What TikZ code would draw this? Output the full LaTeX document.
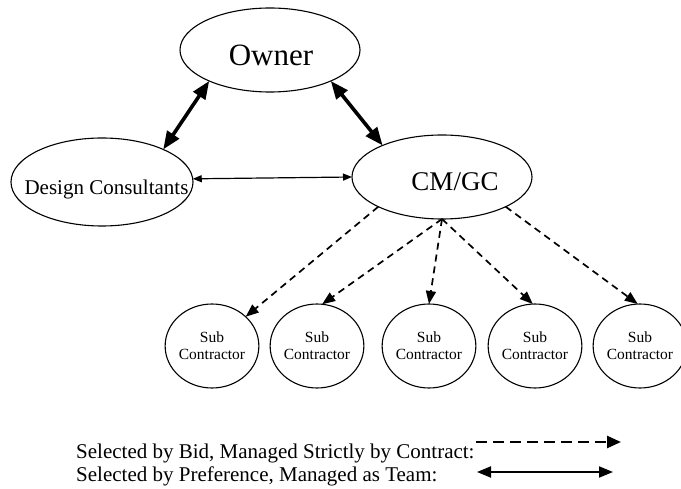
\documentclass[tikz,border=0pt]{standalone}
\usepackage{fontspec}
\setmainfont{Liberation Serif}
\usetikzlibrary{shapes.geometric,arrows.meta}
\begin{document}
\begin{tikzpicture}[x=1pt,y=-1pt,
  ell/.style={ellipse,draw,line width=1.1pt,inner sep=0pt,outer sep=0pt},
  subc/.style={ell,minimum width=92pt,minimum height=84pt,align=center,
    font=\fontsize{15.5}{17}\selectfont},
  thickdbl/.style={{Triangle[length=18pt,width=14pt]}-{Triangle[length=18pt,width=14pt]},line width=3.6pt},
  thindbl/.style={{Triangle[length=9pt,width=7pt]}-{Triangle[length=9pt,width=7pt]},line width=1.2pt},
  dasharr/.style={-{Triangle[length=13pt,width=10pt]},line width=1.7pt,dash pattern=on 7pt off 5pt},
  legtext/.style={anchor=base west,inner sep=0pt,font=\fontsize{21}{23}\selectfont},
]
\useasboundingbox (0,0) rectangle (681,489);
\fill[white] (0,0) rectangle (681,489);

\node[ell,minimum width=180pt,minimum height=84pt,font=\fontsize{31}{33}\selectfont,text height=32pt,text depth=0pt] (owner) at (270,50) {\makebox[0pt]{\hspace*{2pt}Owner}};
\node[ell,minimum width=182pt,minimum height=88pt,font=\fontsize{21}{23}\selectfont,text height=26pt,text depth=0pt] (design) at (102,182) {\makebox[0pt]{\hspace*{9pt}Design Consultants}};
\node[ell,minimum width=180pt,minimum height=84pt,font=\fontsize{27}{29}\selectfont,text height=28pt,text depth=0pt] (cmgc) at (442,177) {\makebox[0pt]{\hspace*{26pt}CM/GC}};

\node[subc] (s1) at (212,346) {Sub\\Contractor};
\node[subc] (s2) at (317,346) {Sub\\Contractor};
\node[subc] (s3) at (429,346) {Sub\\Contractor};
\node[subc] (s4) at (535,346) {Sub\\Contractor};
\node[subc] (s5) at (640,346) {Sub\\Contractor};

\draw[thickdbl] (owner.207) -- (design.28);
\draw[thickdbl] (owner.333) -- (cmgc.152);
\draw[thindbl] (design.2) -- (cmgc.west);

\draw[dasharr] (cmgc.205) -- (s1.41);
\draw[dasharr] (cmgc.south) -- (s2.83);
\draw[dasharr] (cmgc.south) -- (s3.90);
\draw[dasharr] (cmgc.south) -- (s4.93);
\draw[dasharr] (cmgc.335) -- (s5.93);

\node[legtext] (leg1) at (76,458) {Selected by Bid, Managed Strictly by Contract:};
\node[legtext] (leg2) at (76,481) {Selected by Preference, Managed as Team:};
\coordinate (d1) at (476,442);
\coordinate (d2) at (621,442);
\coordinate (t1) at (477,472);
\coordinate (t2) at (613,472);
\draw[-{Triangle[length=14pt,width=12pt]},line width=2.6pt,dash pattern=on 11pt off 6pt] (d1) -- (d2);
\draw[{Triangle[length=14pt,width=11pt]}-{Triangle[length=14pt,width=11pt]},line width=2pt] (t1) -- (t2);
\end{tikzpicture}
\end{document}
